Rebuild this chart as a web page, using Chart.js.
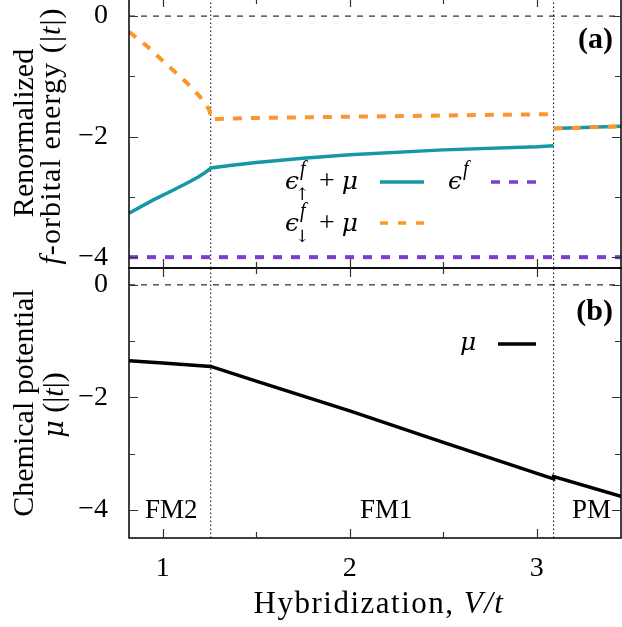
<!DOCTYPE html>
<html>
<head>
<meta charset="utf-8">
<script src="https://cdn.jsdelivr.net/npm/chart.js@4.4.1/dist/chart.umd.min.js"></script>
<style>
  html, body { margin: 0; padding: 0; background: #fff; overflow: hidden; }
  #wrap { position: relative; width: 622px; height: 627px; overflow: hidden; }
  .box { position: absolute; left: 0; width: 622px; }
  #topBox { top: -10px; height: 280px; }
  #botBox { top: 258px; height: 369px; }
</style>
</head>
<body>
<div id="wrap">
  <div class="box" id="topBox"><canvas id="topChart" width="622" height="280"></canvas></div>
  <div class="box" id="botBox"><canvas id="botChart" width="622" height="369"></canvas></div>
</div>
<script>
// x range (V/t) and phase boundaries
const xMin = 0.82, xMax = 3.45;
const vTrans = [1.257, 3.09];
const xTickVals = [1, 1.5, 2, 2.5, 3];

// panel (a): renormalized f-orbital energies
const topRange = [-4.18, 0.3];
const topTickVals = [-4, -3, -2, -1, 0];
const upV = [0.82, 0.95, 1.055, 1.144, 1.19, 1.225, 1.251, 1.257, 1.36, 1.5, 1.75, 2.0, 2.5, 3.0, 3.09, 3.09, 3.09, 3.45];
const upE = [-3.27, -3.05, -2.89, -2.75, -2.67, -2.60, -2.54, -2.52, -2.48, -2.43, -2.36, -2.30, -2.22, -2.17, -2.15, null, -1.865, -1.83];
const dnV = [0.82, 0.92, 1.0, 1.06, 1.13, 1.2, 1.25, 1.257, 1.5, 2.0, 2.5, 3.0, 3.09, 3.09, 3.09, 3.45];
const dnE = [-0.26, -0.51, -0.74, -0.91, -1.11, -1.34, -1.56, -1.71, -1.69, -1.67, -1.65, -1.63, -1.63, null, -1.865, -1.83];
const efV = [0.82, 3.45];
const efE = [-4, -4];

// panel (b): chemical potential
const botRange = [-4.5, 0.3];
const botTickVals = [-4, -3, -2, -1, 0];
const muV = [0.82, 1.0, 1.257, 1.5, 2.0, 2.5, 3.0, 3.09, 3.09, 3.45];
const muE = [-1.35, -1.39, -1.45, -1.71, -2.24, -2.80, -3.35, -3.45, -3.41, -3.76];

const zeroV = [0.82, 3.45];
const zeroE = [0, 0];

const SERIF = '"Liberation Serif", "DejaVu Serif", serif';
const GREEK = '"DejaVu Serif", serif';
const TEAL = '#1597a5', ORANGE = '#fb952c', PURPLE = '#7a40cc';

const pts = (xs, ys) => xs.map((x, i) => ({ x, y: ys[i] }));

function vlines(range) {
  const d = [];
  vTrans.forEach((v, i) => {
    if (i > 0) d.push({ x: v, y: null });
    d.push({ x: v, y: range[0] }, { x: v, y: range[1] });
  });
  return d;
}

function fontOf(style, size, fam) {
  return `${style} ${size}px ${fam || SERIF}`;
}

// draw a row of text pieces: [text, style, size, dy, family]
function rich(ctx, parts, x, y, align, spacing) {
  ctx.letterSpacing = (spacing || 0) + 'px';
  let w = 0;
  const ws = parts.map(p => {
    ctx.font = fontOf(p[1], p[2], p[4]);
    const m = ctx.measureText(p[0]).width;
    w += m;
    return m;
  });
  let cx = align === 'center' ? x - w / 2 : align === 'right' ? x - w : x;
  parts.forEach((p, i) => {
    ctx.font = fontOf(p[1], p[2], p[4]);
    ctx.fillText(p[0], cx, y + (p[3] || 0));
    cx += ws[i];
  });
  ctx.letterSpacing = '0px';
}

function rotated(ctx, parts, x, y, spacing) {
  ctx.save();
  ctx.translate(x, y);
  ctx.rotate(-Math.PI / 2);
  rich(ctx, parts, 0, 0, 'center', spacing);
  ctx.restore();
}

// epsilon with f superscript and optional arrow subscript
function epsF(ctx, x, y, arrow) {
  ctx.font = fontOf('italic', 25, GREEK);
  ctx.fillText('ϵ', x, y);
  const w = ctx.measureText('ϵ').width;
  ctx.font = fontOf('italic', 20);
  ctx.fillText('f', x + w + 1, y - 14);
  if (arrow) {
    ctx.font = fontOf('normal', 17, GREEK);
    ctx.fillText(arrow, x + w - 4, y + 11);
  }
}

function sample(ctx, x0, x1, y, color, dash) {
  ctx.save();
  ctx.strokeStyle = color;
  ctx.lineWidth = 3.5;
  ctx.setLineDash(dash);
  ctx.beginPath();
  ctx.moveTo(x0, y);
  ctx.lineTo(x1, y);
  ctx.stroke();
  ctx.restore();
}

const frame = {
  id: 'frame',
  afterDatasetsDraw(chart, args, opts) {
    const { ctx, chartArea: a, scales: { x, y } } = chart;
    ctx.save();
    ctx.strokeStyle = '#000';
    ctx.lineWidth = 1.5;
    ctx.strokeRect(a.left, a.top, a.right - a.left, a.bottom - a.top);
    ctx.strokeStyle = '#333';
    ctx.lineWidth = 1.2;
    ctx.beginPath();
    xTickVals.forEach(v => {
      const px = Math.round(x.getPixelForValue(v)) + 0.5;
      const len = Number.isInteger(v) ? 9 : 6;
      ctx.moveTo(px, a.bottom); ctx.lineTo(px, a.bottom - len);
      ctx.moveTo(px, a.top); ctx.lineTo(px, a.top + len);
    });
    opts.yTicks.forEach(v => {
      const py = Math.round(y.getPixelForValue(v)) + 0.5;
      const len = v % 2 === 0 ? 9 : 6;
      ctx.moveTo(a.left, py); ctx.lineTo(a.left + len, py);
      ctx.moveTo(a.right, py); ctx.lineTo(a.right - len, py);
    });
    ctx.stroke();
    ctx.restore();
  },
  afterDraw(chart, args, opts) {
    const ctx = chart.ctx;
    ctx.save();
    ctx.fillStyle = '#000';
    ctx.textBaseline = 'alphabetic';
    opts.texts(ctx, opts.off);
    ctx.restore();
  }
};

function lineDs(data, color, width, dash, order) {
  return {
    data, borderColor: color, borderWidth: width, borderDash: dash,
    pointRadius: 0, tension: 0, fill: false, spanGaps: false, order
  };
}

const noPad = s => { s.paddingTop = 0; s.paddingBottom = 0; s.paddingLeft = 0; s.paddingRight = 0; };

function makeChart(id, datasets, range, yTicks, showX, padding, texts, off) {
  return new Chart(document.getElementById(id), {
    type: 'line',
    data: { datasets },
    options: {
      responsive: false,
      animation: false,
      events: [],
      layout: { padding, autoPadding: false },
      plugins: {
        legend: { display: false },
        tooltip: { enabled: false },
        frame: { yTicks, texts, off }
      },
      scales: {
        x: {
          type: 'linear',
          min: xMin, max: xMax,
          display: showX,
          grid: { display: false, drawTicks: false },
          border: { display: false },
          afterBuildTicks: s => { s.ticks = xTickVals.map(value => ({ value })); },
          afterFit: s => { noPad(s); if (showX) s.height = 89; },
          ticks: {
            padding: 14,
            color: '#000',
            font: { family: SERIF, size: 28 },
            maxRotation: 0,
            autoSkip: false,
            callback: v => Number.isInteger(v) ? String(v) : ''
          }
        },
        y: {
          type: 'linear',
          min: range[0], max: range[1],
          grid: { display: false, drawTicks: false },
          border: { display: false },
          afterBuildTicks: s => { s.ticks = yTicks.map(value => ({ value })); },
          afterFit: s => { noPad(s); s.width = 129; },
          ticks: {
            padding: 21,
            color: '#000',
            font: { family: SERIF, size: 28 },
            autoSkip: false,
            callback: v => v % 2 === 0 ? (v < 0 ? '\u2212' + Math.abs(v) : String(v)) : ''
          }
        }
      }
    },
    plugins: [frame]
  });
}

// panel (a)
makeChart('topChart', [
  lineDs(pts(dnV, dnE), ORANGE, 4, [9, 9], 1),
  lineDs(pts(upV, upE), TEAL, 3.5, [], 2),
  lineDs(pts(efV, efE), PURPLE, 4, [9, 9], 3),
  lineDs(pts(zeroV, zeroE), '#000', 1, [6, 6], 4),
  lineDs(vlines(topRange), '#000', 1, [1.5, 2.5], 5)
], topRange, topTickVals, false, { top: 8, right: 1, bottom: 2, left: 0 }, (ctx, o) => {
  rotated(ctx, [['Renormalized', 'normal', 30]], 33, 133 + o);
  rotated(ctx, [['f', 'italic', 30], ['-orbital energy (|', 'normal', 30], ['t', 'italic', 30], ['|)', 'normal', 30]], 60, 136 + o, 1.1);
  rich(ctx, [['(a)', 'bold', 30]], 613, 48 + o, 'right');
  epsF(ctx, 285, 189 + o, '\u2191');
  rich(ctx, [['+ ', 'normal', 28], ['μ', 'italic', 25, 0, GREEK]], 319, 189 + o, 'left');
  sample(ctx, 380, 424, 182 + o, TEAL, []);
  epsF(ctx, 448, 189 + o, null);
  sample(ctx, 491, 537, 182 + o, PURPLE, [9, 9]);
  epsF(ctx, 285, 231 + o, '\u2193');
  rich(ctx, [['+ ', 'normal', 28], ['μ', 'italic', 25, 0, GREEK]], 319, 231 + o, 'left');
  sample(ctx, 380, 424, 223 + o, ORANGE, [8, 10]);
}, 10);

// panel (b)
makeChart('botChart', [
  lineDs(pts(muV, muE), '#000', 3.5, [], 1),
  lineDs(pts(zeroV, zeroE), '#000', 1, [6, 6], 4),
  lineDs(vlines(botRange), '#000', 1, [1.5, 2.5], 5)
], botRange, botTickVals, true, { top: 10, right: 1, bottom: 0, left: 0 }, (ctx, o) => {
  rotated(ctx, [['Chemical potential', 'normal', 30]], 33, 403 + o);
  rotated(ctx, [['μ', 'italic', 27, 0, GREEK], [' (|', 'normal', 30], ['t', 'italic', 30], ['|)', 'normal', 30]], 63, 405 + o);
  rich(ctx, [['(b)', 'bold', 30]], 613, 320 + o, 'right');
  rich(ctx, [['μ', 'italic', 25, 0, GREEK]], 460, 350 + o, 'left');
  sample(ctx, 498, 536, 344 + o, '#000', []);
  rich(ctx, [['FM2', 'normal', 27]], 145, 518 + o, 'left');
  rich(ctx, [['FM1', 'normal', 27]], 360, 518 + o, 'left');
  rich(ctx, [['PM', 'normal', 27]], 572, 518 + o, 'left');
  rich(ctx, [['Hybridization, ', 'normal', 31], ['V/t', 'italic', 31]], 379, 613 + o, 'center', 1.5);
}, -258);
</script>
</body>
</html>
